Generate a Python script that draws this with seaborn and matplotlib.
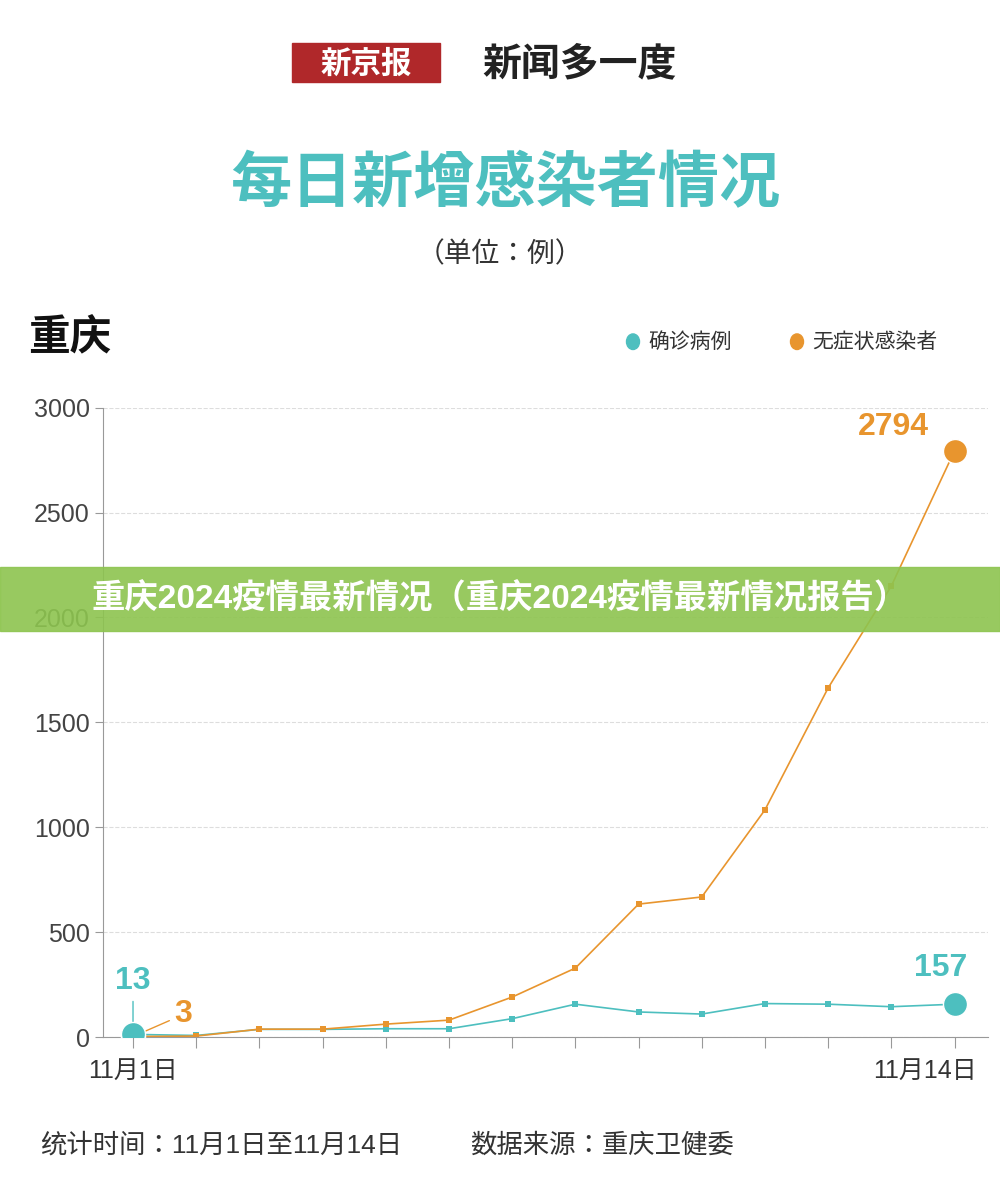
import matplotlib
matplotlib.use("Agg")
import matplotlib.pyplot as plt
import matplotlib.transforms as mtransforms
import seaborn as sns
import pandas as pd
from matplotlib.patches import Rectangle
from matplotlib import font_manager as fm

cjk = [f.name for f in fm.fontManager.ttflist if "CJK" in f.name]
pref = [n for n in ["Noto Sans CJK SC", "Noto Sans CJK JP", "Noto Sans CJK TC", "Noto Sans CJK KR"] if n in cjk]
family = pref[0] if pref else (cjk[0] if cjk else "DejaVu Sans")
plt.rcParams["font.family"] = ["Liberation Sans", family, "DejaVu Sans"]

days = list(range(1, 15))
confirmed = [13, 8, 37, 37, 40, 40, 88, 157, 120, 110, 160, 157, 145, 157]
asymptomatic = [3, 5, 38, 38, 62, 81, 191, 329, 634, 668, 1083, 1664, 2150, 2794]
yticks = [0, 500, 1000, 1500, 2000, 2500, 3000]

df = pd.DataFrame({"day": days * 2,
                   "value": confirmed + asymptomatic,
                   "series": ["确诊病例"] * 14 + ["无症状感染者"] * 14})
teal = "#4dbfbf"
orange = "#e8952e"

fig = plt.figure(figsize=(10, 11.99), dpi=100)
ax = fig.add_axes([0.103, 0.135, 0.885, 0.525])
sns.lineplot(data=df, x="day", y="value", hue="series", palette=[teal, orange],
             marker="s", markersize=5, markeredgewidth=0, linewidth=1.2, ax=ax, legend=False)
ax.scatter([1, 14], [confirmed[0], confirmed[-1]], s=300, color=teal, zorder=5, edgecolor="white")
ax.scatter([1, 14], [asymptomatic[0], asymptomatic[-1]], s=300, color=orange, zorder=4, edgecolor="white")
ax.annotate("13", (1, confirmed[0]), xytext=(1, 230), ha="center", fontsize=23, color=teal,
            fontweight="bold", arrowprops=dict(arrowstyle="-", color=teal, lw=1))
ax.annotate("3", (1, asymptomatic[0]), xytext=(1.8, 70), ha="center", fontsize=23, color=orange,
            fontweight="bold", arrowprops=dict(arrowstyle="-", color=orange, lw=1))
ax.text(14.2, 290, "157", ha="right", fontsize=23, color=teal, fontweight="bold")
ax.text(13.6, 2870, "2794", ha="right", fontsize=23, color=orange, fontweight="bold")

ax.set_xlim(0.525, 14.53)
ax.set_ylim(0, 3000)
ax.set_yticks(yticks)
ax.set_yticklabels([str(t) for t in yticks], fontsize=18, color="#444")
ax.set_xticks(days)
ax.set_xticklabels(["11月1日"] + [""] * 12 + ["11月14日"], fontsize=18, color="#333")
ax.tick_params(axis="x", length=8, color="#999", pad=8)
ax.tick_params(axis="y", length=6, color="#999")
last = ax.get_xticklabels()[-1]
last.set_horizontalalignment("right")
last.set_transform(last.get_transform() + mtransforms.ScaledTranslation(0.22, 0, fig.dpi_scale_trans))
ax.yaxis.grid(True, linestyle="--", color="#ddd")
ax.set_axisbelow(True)
for s in ["top", "right"]:
    ax.spines[s].set_visible(False)
ax.spines["left"].set_color("#999")
ax.spines["bottom"].set_color("#999")
ax.set_xlabel("")
ax.set_ylabel("")

fig.patches.append(Rectangle((0.292, 0.932), 0.148, 0.032, transform=fig.transFigure, color="#b0282a"))
fig.text(0.366, 0.946, "新京报", ha="center", va="center", fontsize=22, color="white", fontweight="bold")
fig.text(0.58, 0.946, "新闻多一度", ha="center", va="center", fontsize=28, color="#222", fontweight="bold", style="italic")
fig.text(0.505, 0.845, "每日新增感染者情况", ha="center", va="center", fontsize=44, color="#4dbfbf", fontweight="bold")
fig.text(0.5, 0.787, "（单位：例）", ha="center", va="center", fontsize=20, color="#333")
fig.text(0.028, 0.717, "重庆", ha="left", va="center", fontsize=30, color="#111", fontweight="bold")
fig.patches.append(plt.Circle((0.633, 0.715), 0.0065, transform=fig.transFigure, color=teal))
fig.text(0.648, 0.715, "确诊病例", va="center", fontsize=15, color="#333")
fig.patches.append(plt.Circle((0.797, 0.715), 0.0065, transform=fig.transFigure, color=orange))
fig.text(0.812, 0.715, "无症状感染者", va="center", fontsize=15, color="#333")
fig.text(0.04, 0.045, "统计时间：11月1日至11月14日", va="center", fontsize=19, color="#333")
fig.text(0.47, 0.045, "数据来源：重庆卫健委", va="center", fontsize=19, color="#333")

fig.patches.append(Rectangle((0, 0.474), 1, 0.053, transform=fig.transFigure, color="#8dc44f", alpha=0.9, zorder=10))
fig.text(0.5, 0.5, "重庆2024疫情最新情况（重庆2024疫情最新情况报告）", ha="center", va="center",
         fontsize=24, color="white", fontweight="bold", zorder=11)

fig.savefig("out.png", dpi=100, facecolor="white")
